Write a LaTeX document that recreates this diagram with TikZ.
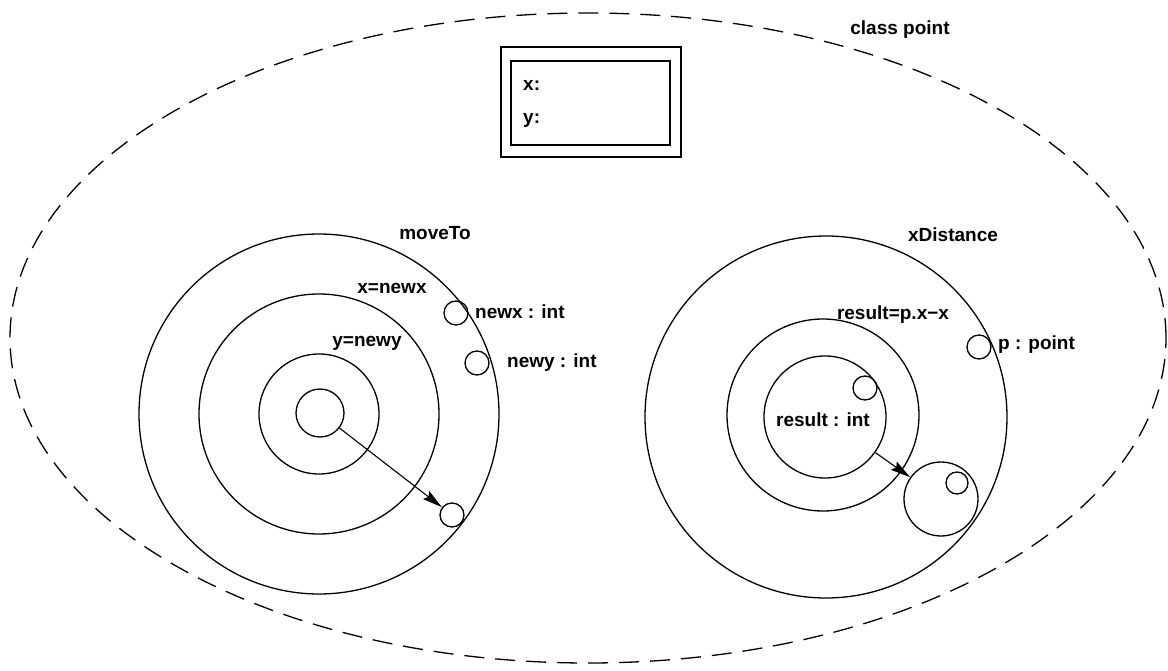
\documentclass[tikz,border=0pt]{standalone}
\usepackage{fontspec}
\setmainfont{Liberation Sans}
\usetikzlibrary{shapes.geometric,arrows.meta}
\begin{document}
\begin{tikzpicture}[x=1pt,y=-1pt,
  ring/.style={circle,draw,line width=1.3pt,inner sep=0pt},
  lbl/.style={font=\bfseries\fontsize{19}{22}\selectfont,inner sep=0pt},
  arr/.style={line width=1.1pt,-{Stealth[length=20pt,width=10pt,inset=3pt]}},
  boxline/.style={draw,line width=1.6pt,inner sep=0pt,rectangle}]
\useasboundingbox (0,0) rectangle (1168,671);
% class boundary
\node[ellipse,draw,line width=1.3pt,dash pattern=on 20pt off 11pt,
      minimum width=1156pt,minimum height=650pt,inner sep=0pt] (cls) at (588,338) {};
\node[lbl] (clsname) at (900,30) {class point};
% state box
\node[boxline,minimum width=180pt,minimum height=110pt] (boxout) at (591,102) {};
\node[boxline,minimum width=159pt,minimum height=84pt] (boxin) at (590.5,103) {};
\node[lbl,anchor=west] (vx) at (523,85) {x:};
\node[lbl,anchor=west] (vy) at (523,120) {y:};
% moveTo
\node[ring,minimum size=360pt] (m1) at (319,414) {};
\node[ring,minimum size=240pt] (m2) at (319,414) {};
\node[ring,minimum size=120pt] (m3) at (319,414) {};
\node[ring,minimum size=48pt] (m4) at (320,413) {};
\node[lbl] (mname) at (435,233) {moveTo};
\node[lbl] (mx) at (392,288) {x=newx};
\node[lbl] (my) at (367,343) {y=newy};
\node[ring,minimum size=24pt] (pnx) at (456,313) {};
\node[ring,minimum size=24pt] (pny) at (477,363) {};
\node[ring,minimum size=24pt] (pm) at (452,515) {};
\node[lbl,anchor=west] (lnx) at (475,312) {newx : int};
\node[lbl,anchor=west] (lny) at (507,363) {newy : int};
\draw[arr] (m4) -- (pm);
% xDistance
\node[ring,minimum size=362pt] (d1) at (826,417) {};
\node[ring,minimum size=192pt] (d2) at (823,415) {};
\node[ring,minimum size=122pt] (d3) at (825,417) {};
\node[lbl] (dname) at (953,235) {xDistance};
\node[lbl] (dres) at (893,315) {result=p.x−x};
\node[ring,minimum size=24pt] (pp) at (979,347) {};
\node[lbl,anchor=west] (lp) at (998,345) {p : point};
\node[ring,minimum size=24pt] (pr) at (865,388) {};
\node[lbl] (lr) at (823,420) {result : int};
\node[ring,minimum size=74pt] (big) at (941,499) {};
\node[ring,minimum size=22pt] (bigp) at (957,483) {};
\draw[arr] (d3) -- (big);
\end{tikzpicture}
\end{document}
